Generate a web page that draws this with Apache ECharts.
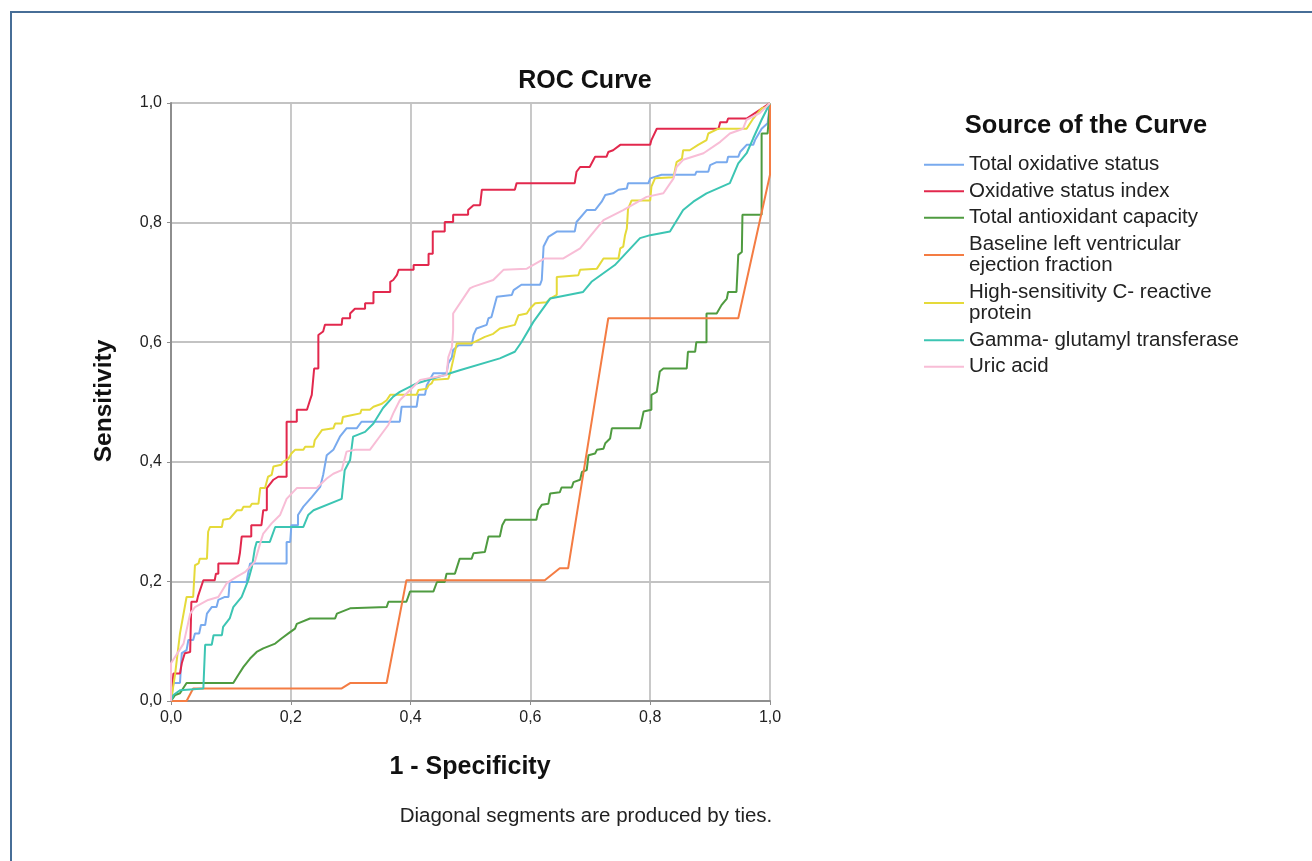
<!DOCTYPE html>
<html>
<head>
<meta charset="utf-8">
<script src="https://cdn.jsdelivr.net/npm/echarts@6/dist/echarts.min.js"></script>
<style>
  html, body { margin: 0; padding: 0; background: #fff; overflow: hidden; }
  #frame { position: absolute; left: 10px; top: 11px; width: 1320px; height: 870px; z-index: 5;
           pointer-events: none; border-left: 2px solid #476e97; border-top: 2px solid #476e97; }
  #chart { position: absolute; left: 0; top: 0; width: 1312px; height: 861px; }
</style>
</head>
<body>
<div id="frame"></div>
<div id="chart"></div>
<script>
// series names, in legend order
const curveNames = [
  "Total oxidative status",
  "Oxidative status index",
  "Total antioxidant capacity",
  "Baseline left ventricular ejection fraction",
  "High-sensitivity C- reactive protein",
  "Gamma- glutamyl transferase",
  "Uric acid"
];

const axisTicks = [0, 0.2, 0.4, 0.6, 0.8, 1.0];

// [1 - specificity, sensitivity]
const totalOxidative = [[0,0],[0.004,0.030],[0.015,0.030],[0.018,0.080],[0.026,0.085],[0.029,0.102],[0.037,0.102],[0.040,0.113],[0.047,0.113],[0.050,0.127],[0.057,0.127],[0.060,0.146],[0.068,0.157],[0.076,0.157],[0.079,0.169],[0.090,0.174],[0.096,0.174],[0.098,0.199],[0.126,0.199],[0.132,0.230],[0.193,0.230],[0.193,0.266],[0.199,0.266],[0.201,0.294],[0.212,0.294],[0.212,0.311],[0.221,0.325],[0.235,0.341],[0.249,0.358],[0.254,0.378],[0.260,0.411],[0.271,0.420],[0.282,0.442],[0.293,0.456],[0.310,0.456],[0.318,0.467],[0.382,0.467],[0.385,0.492],[0.410,0.492],[0.413,0.512],[0.424,0.512],[0.427,0.528],[0.438,0.548],[0.460,0.548],[0.463,0.565],[0.469,0.575],[0.471,0.587],[0.480,0.595],[0.502,0.595],[0.505,0.612],[0.510,0.623],[0.527,0.629],[0.530,0.640],[0.535,0.642],[0.544,0.676],[0.569,0.679],[0.572,0.687],[0.585,0.696],[0.616,0.696],[0.619,0.704],[0.622,0.760],[0.630,0.776],[0.644,0.785],[0.674,0.785],[0.677,0.801],[0.694,0.821],[0.708,0.821],[0.719,0.835],[0.725,0.846],[0.738,0.849],[0.747,0.855],[0.761,0.857],[0.763,0.866],[0.797,0.866],[0.800,0.874],[0.819,0.880],[0.875,0.880],[0.877,0.885],[0.897,0.885],[0.900,0.896],[0.911,0.901],[0.928,0.901],[0.930,0.910],[0.947,0.910],[0.950,0.918],[0.961,0.930],[0.972,0.930],[0.975,0.938],[0.986,0.957],[0.996,0.966],[1,1]];

const oxidativeIndex = [[0,0],[0.004,0.046],[0.015,0.046],[0.018,0.063],[0.023,0.080],[0.032,0.082],[0.034,0.166],[0.043,0.166],[0.045,0.175],[0.054,0.202],[0.073,0.202],[0.075,0.213],[0.079,0.213],[0.079,0.230],[0.112,0.230],[0.115,0.247],[0.118,0.275],[0.134,0.275],[0.134,0.294],[0.151,0.294],[0.154,0.319],[0.160,0.319],[0.160,0.356],[0.171,0.370],[0.179,0.375],[0.193,0.375],[0.193,0.467],[0.210,0.467],[0.210,0.487],[0.227,0.487],[0.232,0.503],[0.235,0.512],[0.239,0.556],[0.246,0.556],[0.246,0.612],[0.254,0.618],[0.257,0.629],[0.285,0.629],[0.286,0.640],[0.299,0.640],[0.299,0.648],[0.307,0.656],[0.324,0.656],[0.324,0.665],[0.338,0.665],[0.338,0.684],[0.366,0.684],[0.366,0.701],[0.371,0.704],[0.377,0.712],[0.380,0.721],[0.405,0.721],[0.405,0.729],[0.430,0.729],[0.430,0.748],[0.437,0.748],[0.437,0.785],[0.457,0.785],[0.457,0.801],[0.471,0.801],[0.471,0.813],[0.496,0.813],[0.496,0.821],[0.505,0.829],[0.516,0.829],[0.519,0.855],[0.574,0.855],[0.577,0.866],[0.674,0.866],[0.677,0.885],[0.683,0.893],[0.699,0.893],[0.708,0.910],[0.727,0.910],[0.730,0.918],[0.738,0.921],[0.750,0.930],[0.800,0.930],[0.802,0.938],[0.811,0.957],[0.914,0.957],[0.917,0.968],[0.928,0.968],[0.930,0.974],[0.961,0.974],[1,1]];

const antioxidantCapacity = [[0,0],[0.007,0.010],[0.015,0.013],[0.026,0.030],[0.104,0.030],[0.112,0.043],[0.121,0.057],[0.132,0.071],[0.143,0.082],[0.154,0.088],[0.174,0.096],[0.185,0.105],[0.196,0.113],[0.207,0.121],[0.210,0.129],[0.232,0.138],[0.274,0.138],[0.277,0.146],[0.299,0.155],[0.360,0.157],[0.363,0.166],[0.393,0.166],[0.399,0.183],[0.438,0.183],[0.444,0.199],[0.457,0.199],[0.460,0.213],[0.474,0.213],[0.482,0.238],[0.502,0.238],[0.505,0.247],[0.524,0.249],[0.530,0.275],[0.549,0.275],[0.553,0.294],[0.558,0.303],[0.610,0.303],[0.613,0.319],[0.619,0.328],[0.630,0.330],[0.633,0.347],[0.649,0.349],[0.652,0.357],[0.669,0.357],[0.672,0.366],[0.683,0.370],[0.686,0.383],[0.694,0.386],[0.697,0.411],[0.708,0.414],[0.711,0.420],[0.722,0.422],[0.725,0.431],[0.733,0.439],[0.736,0.456],[0.783,0.456],[0.786,0.470],[0.789,0.484],[0.802,0.487],[0.802,0.512],[0.811,0.517],[0.816,0.551],[0.822,0.556],[0.861,0.556],[0.863,0.584],[0.875,0.584],[0.877,0.600],[0.894,0.600],[0.894,0.648],[0.911,0.648],[0.919,0.662],[0.928,0.673],[0.930,0.684],[0.944,0.684],[0.947,0.746],[0.953,0.751],[0.954,0.813],[0.986,0.813],[0.986,0.949],[0.996,0.949],[1,1]];

const ejectionFraction = [[0,0],[0.026,0],[0.037,0.021],[0.285,0.021],[0.299,0.030],[0.360,0.030],[0.393,0.202],[0.624,0.202],[0.649,0.222],[0.663,0.222],[0.708,0.503],[0.730,0.640],[0.947,0.640],[1,0.880],[1,1]];

const crp = [[0,0],[0.007,0.046],[0.015,0.113],[0.026,0.174],[0.037,0.174],[0.040,0.227],[0.046,0.230],[0.048,0.238],[0.060,0.238],[0.062,0.283],[0.065,0.291],[0.085,0.291],[0.087,0.303],[0.098,0.305],[0.110,0.319],[0.118,0.319],[0.121,0.325],[0.132,0.325],[0.135,0.330],[0.146,0.330],[0.149,0.356],[0.157,0.356],[0.162,0.375],[0.168,0.378],[0.171,0.392],[0.184,0.395],[0.187,0.400],[0.196,0.405],[0.201,0.414],[0.207,0.420],[0.221,0.420],[0.224,0.425],[0.238,0.425],[0.240,0.436],[0.252,0.453],[0.271,0.456],[0.274,0.464],[0.285,0.464],[0.287,0.475],[0.301,0.478],[0.304,0.481],[0.316,0.481],[0.318,0.487],[0.332,0.487],[0.338,0.492],[0.352,0.497],[0.360,0.503],[0.366,0.512],[0.410,0.512],[0.413,0.520],[0.427,0.522],[0.430,0.528],[0.435,0.531],[0.438,0.537],[0.463,0.539],[0.466,0.548],[0.471,0.570],[0.474,0.584],[0.477,0.598],[0.502,0.598],[0.505,0.600],[0.524,0.609],[0.538,0.614],[0.549,0.623],[0.574,0.629],[0.580,0.645],[0.594,0.648],[0.599,0.656],[0.608,0.665],[0.627,0.667],[0.633,0.673],[0.644,0.679],[0.644,0.709],[0.680,0.712],[0.683,0.721],[0.711,0.723],[0.722,0.740],[0.747,0.740],[0.750,0.757],[0.755,0.760],[0.758,0.779],[0.761,0.790],[0.763,0.823],[0.769,0.837],[0.800,0.837],[0.802,0.860],[0.808,0.874],[0.839,0.876],[0.844,0.901],[0.853,0.907],[0.855,0.921],[0.866,0.921],[0.880,0.930],[0.894,0.938],[0.897,0.949],[0.914,0.957],[0.961,0.957],[0.972,0.974],[0.986,0.991],[0.993,0.993],[1,1]];

const ggt = [[0,0],[0.004,0.010],[0.015,0.018],[0.054,0.021],[0.057,0.094],[0.068,0.094],[0.071,0.110],[0.085,0.110],[0.087,0.124],[0.098,0.138],[0.104,0.157],[0.118,0.174],[0.129,0.202],[0.135,0.224],[0.140,0.255],[0.143,0.266],[0.165,0.266],[0.174,0.291],[0.221,0.291],[0.229,0.311],[0.238,0.319],[0.285,0.338],[0.290,0.386],[0.299,0.403],[0.304,0.442],[0.324,0.450],[0.338,0.464],[0.354,0.490],[0.371,0.509],[0.382,0.517],[0.410,0.531],[0.466,0.548],[0.482,0.553],[0.549,0.573],[0.574,0.584],[0.585,0.600],[0.605,0.634],[0.633,0.673],[0.688,0.684],[0.702,0.701],[0.741,0.729],[0.783,0.774],[0.800,0.779],[0.833,0.785],[0.855,0.821],[0.872,0.835],[0.894,0.849],[0.933,0.866],[0.947,0.899],[0.961,0.916],[0.972,0.941],[0.986,0.972],[1,1]];

const uricAcid = [[0,0],[0,0.063],[0.021,0.096],[0.032,0.146],[0.040,0.157],[0.062,0.169],[0.079,0.174],[0.093,0.197],[0.110,0.208],[0.124,0.216],[0.140,0.233],[0.149,0.264],[0.154,0.280],[0.168,0.297],[0.182,0.311],[0.193,0.338],[0.210,0.356],[0.243,0.356],[0.260,0.372],[0.271,0.380],[0.285,0.386],[0.293,0.417],[0.307,0.420],[0.332,0.420],[0.346,0.439],[0.363,0.462],[0.371,0.481],[0.382,0.503],[0.405,0.526],[0.416,0.537],[0.460,0.545],[0.463,0.575],[0.469,0.592],[0.471,0.620],[0.471,0.648],[0.499,0.690],[0.505,0.693],[0.538,0.704],[0.555,0.721],[0.594,0.723],[0.624,0.740],[0.655,0.740],[0.683,0.757],[0.722,0.804],[0.755,0.821],[0.794,0.843],[0.822,0.849],[0.839,0.874],[0.844,0.893],[0.855,0.905],[0.889,0.916],[0.917,0.935],[0.933,0.949],[0.955,0.957],[0.961,0.972],[0.983,0.983],[1,1]];

const curveData = [totalOxidative, oxidativeIndex, antioxidantCapacity, ejectionFraction, crp, ggt, uricAcid];
const curveColors = ["#79aaee", "#e2284d", "#4f9b40", "#f47c43", "#e5da3a", "#3cc5b3", "#f8bdd6"];

const FONT = '"Liberation Sans", Arial, sans-serif';
const tickText = v => v.toFixed(1).replace(".", ",");

const chart = echarts.init(document.getElementById("chart"), null, { renderer: "canvas" });

const valueAxis = {
  type: "value",
  min: 0,
  max: 1,
  interval: 0.2,
  axisLine: { show: true, lineStyle: { color: "#8e8e8e", width: 2 } },
  axisTick: { show: true, length: 4, lineStyle: { color: "#8e8e8e" } },
  axisLabel: { formatter: tickText, color: "#222", fontSize: 16, fontFamily: FONT, margin: 9 },
  splitLine: { show: true, lineStyle: { color: "#c3c3c3", width: 1.8 } }
};

chart.setOption({
  animation: false,
  backgroundColor: "#fff",
  grid: { left: 171, top: 103, width: 599, height: 598 },
  xAxis: Object.assign({}, valueAxis),
  yAxis: Object.assign({}, valueAxis),
  legend: {
    orient: "vertical",
    left: 924,
    top: 154,
    padding: 0,
    icon: "rect",
    itemWidth: 40,
    itemHeight: 2,
    itemGap: 5,
    data: curveNames,
    formatter: name => name.replace("ventricular ", "ventricular\n").replace("reactive ", "reactive\n"),
    textStyle: { color: "#222", fontSize: 20.5, lineHeight: 21.5, fontFamily: FONT }
  },
  graphic: [
    { type: "text", x: 585, y: 81, style: { text: "ROC Curve", align: "center", verticalAlign: "middle", font: "bold 25px " + FONT, fill: "#111" } },
    { type: "text", x: 1086, y: 126, style: { text: "Source of the Curve", align: "center", verticalAlign: "middle", font: "bold 25.5px " + FONT, fill: "#111" } },
    { type: "text", x: 104, y: 401, rotation: Math.PI / 2, style: { text: "Sensitivity", align: "center", verticalAlign: "middle", font: "bold 24.5px " + FONT, fill: "#111" } },
    { type: "text", x: 470, y: 767, style: { text: "1 - Specificity", align: "center", verticalAlign: "middle", font: "bold 25px " + FONT, fill: "#111" } },
    { type: "text", x: 586, y: 816, style: { text: "Diagonal segments are produced by ties.", align: "center", verticalAlign: "middle", font: "20.5px " + FONT, fill: "#222" } }
  ],
  series: curveNames.map((name, i) => ({
    name: name,
    type: "line",
    data: curveData[i],
    showSymbol: false,
    symbol: "none",
    color: curveColors[i],
    lineStyle: { width: 2, color: curveColors[i] },
    z: 3
  }))
});
</script>
</body>
</html>
